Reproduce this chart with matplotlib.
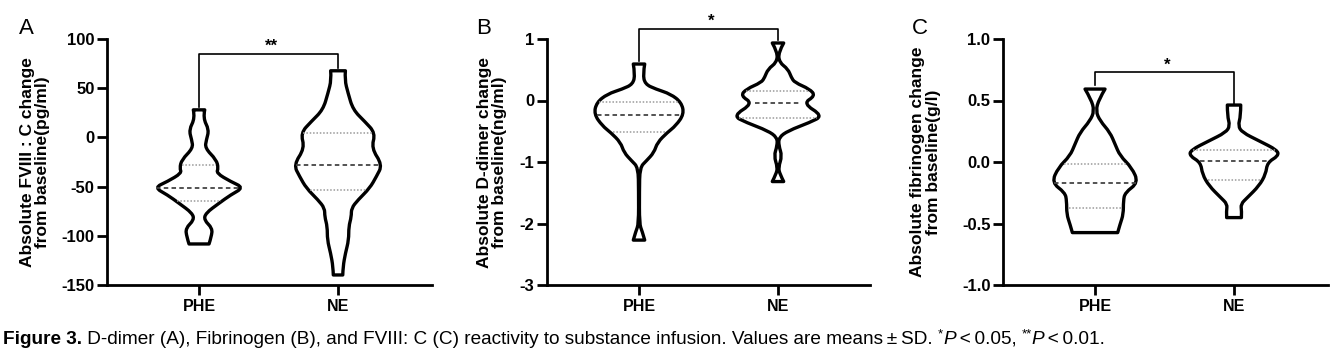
import numpy as np
import matplotlib
matplotlib.use("Agg")
import matplotlib.pyplot as plt
from matplotlib.path import Path
from matplotlib.patches import PathPatch

plt.rcParams["font.family"] = ["Liberation Sans", "DejaVu Sans"]

groups = ["PHE", "NE"]

# violin outlines: y value and half width (x units)
a_phe_y = [28.0, 19.6, 7.7, -2.4, -10.9, -22.8, -31.3, -36.3, -44.9, -51.0, -58.4,
           -66.9, -77.0, -83.9, -92.3, -100.8, -108.3]
a_phe_w = [0.041, 0.029, 0.072, 0.053, 0.043, 0.125, 0.139, 0.125, 0.228, 0.321, 0.228,
           0.144, 0.048, 0.036, 0.096, 0.089, 0.072]
a_ne_y = [67.7, 58.6, 45.1, 28.1, 16.2, 4.4, -10.9, -27.9, -39.8, -51.6, -63.5, -72.0,
          -80.5, -90.7, -104.2, -117.8, -131.4, -139.8]
a_ne_w = [0.053, 0.048, 0.072, 0.108, 0.192, 0.269, 0.240, 0.319, 0.276, 0.228, 0.144,
          0.096, 0.096, 0.077, 0.077, 0.053, 0.036, 0.034]

b_phe_y = [0.593, 0.43, 0.267, 0.186, 0.105, -0.032, -0.221, -0.411, -0.52, -0.683,
           -0.846, -0.981, -1.09, -1.47, -2.01, -2.12, -2.27]
b_phe_w = [0.041, 0.029, 0.043, 0.12, 0.228, 0.305, 0.324, 0.264, 0.204, 0.132,
           0.108, 0.053, 0.006, 0.003, 0.003, 0.022, 0.041]
b_ne_y = [0.935, 0.782, 0.619, 0.511, 0.375, 0.293, 0.186, 0.077, -0.048, -0.249,
          -0.358, -0.493, -0.602, -0.737, -0.9, -1.09, -1.198, -1.318]
b_ne_w = [0.041, 0.003, 0.010, 0.072, 0.096, 0.120, 0.228, 0.269, 0.18, 0.324,
          0.228, 0.072, 0.006, 0.006, 0.029, 0.003, 0.014, 0.041]

c_phe_y = [0.593, 0.512, 0.416, 0.335, 0.24, 0.145, 0.05, -0.045, -0.167, -0.249,
           -0.316, -0.424, -0.506, -0.574]
c_phe_w = [0.072, 0.029, 0.005, 0.036, 0.108, 0.144, 0.18, 0.264, 0.312, 0.216,
           0.204, 0.204, 0.18, 0.163]
c_ne_y = [0.463, 0.376, 0.294, 0.24, 0.172, 0.096, 0.05, -0.004, -0.099, -0.194,
          -0.289, -0.343, -0.398, -0.452]
c_ne_w = [0.048, 0.048, 0.029, 0.06, 0.18, 0.312, 0.319, 0.24, 0.228, 0.18,
          0.096, 0.048, 0.055, 0.053]

# quartiles (Q3, median, Q1)
a_quart = [[-28.2, -51.0, -64.2], [4.4, -27.9, -53.3]]
b_quart = [[-0.032, -0.237, -0.52], [0.147, -0.048, -0.286]]
c_quart = [[-0.013, -0.167, -0.376], [0.096, 0.009, -0.148]]

# significance brackets: bar height, left leg end, right leg end, label
a_sig = [85.0, 31.4, 70.5, "**"]
b_sig = [1.163, 0.647, 0.984, "*"]
c_sig = [0.728, 0.628, 0.471, "*"]

a_ticks = [-150, -100, -50, 0, 50, 100]
b_ticks = [-3, -2, -1, 0, 1]
c_ticks = [-1.0, -0.5, 0.0, 0.5, 1.0]

a_label = "Absolute FVIII : C change\nfrom baseline(pg/ml)"
b_label = "Absolute D-dimer change\nfrom baseline(ng/ml)"
c_label = "Absolute fibrinogen change\nfrom baseline(g/l)"

# caption pieces: text, weight, style, superscript
caption = [
    ("Figure 3.", "bold", "normal", False),
    (" D-dimer (A), Fibrinogen (B), and FVIII: C (C) reactivity to substance infusion. "
     "Values are means\u2009\u00b1\u2009SD. ", "normal", "normal", False),
    ("*", "normal", "normal", True),
    ("P", "normal", "italic", False),
    ("\u2009<\u20090.05, ", "normal", "normal", False),
    ("**", "normal", "normal", True),
    ("P", "normal", "italic", False),
    ("\u2009<\u20090.01.", "normal", "normal", False),
]


def smooth_side(pts):
    # quadratic b-spline through the read points (ends kept)
    verts = [pts[0]]
    codes = [Path.LINETO]
    for i in range(1, len(pts) - 1):
        mid = ((pts[i][0] + pts[i + 1][0]) / 2, (pts[i][1] + pts[i + 1][1]) / 2)
        if i == len(pts) - 2:
            mid = pts[i + 1]
        verts += [pts[i], mid]
        codes += [Path.CURVE3, Path.CURVE3]
    return verts, codes


def draw_violin(ax, x, ys, ws, quart):
    right = [(x + w, y) for y, w in zip(ys, ws)]
    left = [(x - w, y) for y, w in zip(ys[::-1], ws[::-1])]
    rv, rc = smooth_side(right)
    lv, lc = smooth_side(left)
    verts = rv + lv + [rv[0]]
    codes = [Path.MOVETO] + rc[1:] + [Path.LINETO] + lc[1:] + [Path.CLOSEPOLY]
    patch = PathPatch(Path(verts, codes), facecolor="white", edgecolor="black",
                      lw=2.4, joinstyle="round", zorder=3)
    ax.add_patch(patch)
    ys_a = np.array(ys)[::-1]
    ws_a = np.array(ws)[::-1]
    for k, q in enumerate(quart):
        hw = np.interp(q, ys_a, ws_a) - 0.014
        if k == 1:
            ax.plot([x - hw, x + hw], [q, q], ls=(0, (2.5, 1.8)), color="#444444",
                    lw=1.3, zorder=4)
        else:
            ax.plot([x - hw, x + hw], [q, q], ls=(0, (1, 1.2)), color="#9a9a9a",
                    lw=1.1, zorder=4)


def draw_panel(ax, violins, quarts, sig, ticks, label, label_x, fmt, letter, letter_x):
    for i, (ys, ws) in enumerate(violins):
        draw_violin(ax, i, ys, ws, quarts[i])
    ax.set_ylim(ticks[0], ticks[-1])
    ax.set_yticks(ticks)
    ax.set_yticklabels([fmt.format(t) for t in ticks])
    ax.set_xticks([0, 1])
    ax.set_xticklabels(groups)
    for s in ["top", "right"]:
        ax.spines[s].set_visible(False)
    for s in ["left", "bottom"]:
        ax.spines[s].set_linewidth(2.0)
    ax.tick_params(width=2.0, length=7, pad=2)
    ax.tick_params(axis="y", labelsize=12)
    ax.tick_params(axis="x", labelsize=11.5, pad=3)
    for t in ax.get_xticklabels() + ax.get_yticklabels():
        t.set_fontweight("bold")
    ax.plot([0, 0, 1, 1], [sig[1], sig[0], sig[0], sig[2]], color="black", lw=1.2,
            clip_on=False, zorder=5)
    ax.text(0.52, sig[0], sig[3], ha="center", va="bottom", fontsize=12,
            fontweight="bold")
    ax.text(label_x, 0.5, label, transform=ax.transAxes, rotation=90, ha="center",
            va="center", fontsize=12.5, fontweight="bold", linespacing=1.05)
    fig.text(letter_x, 0.902, letter, fontsize=16, ha="left", va="baseline")


fig = plt.figure(figsize=(13.42, 3.48), dpi=100)
W, H = 1342.0, 348.0
ax_a = fig.add_axes([107 / W, 63 / H, 325 / W, 246 / H])
ax_b = fig.add_axes([547 / W, 63 / H, 323 / W, 246 / H])
ax_c = fig.add_axes([1003 / W, 63 / H, 325 / W, 246 / H])
ax_a.set_xlim(-0.662, 1.676)
ax_b.set_xlim(-0.662, 1.662)
ax_c.set_xlim(-0.662, 1.676)

draw_panel(ax_a, [(a_phe_y, a_phe_w), (a_ne_y, a_ne_w)], a_quart, a_sig, a_ticks,
           a_label, -0.222, "{:.0f}", "A", 19 / W)
draw_panel(ax_b, [(b_phe_y, b_phe_w), (b_ne_y, b_ne_w)], b_quart, b_sig, b_ticks,
           b_label, -0.17, "{:.0f}", "B", 476 / W)
draw_panel(ax_c, [(c_phe_y, c_phe_w), (c_ne_y, c_ne_w)], c_quart, c_sig, c_ticks,
           c_label, -0.238, "{:.1f}", "C", 912 / W)


def place_caption(size):
    r = fig.canvas.get_renderer()
    x = 3.0
    items = []
    for txt, weight, style, sup in caption:
        fs = size * 0.7 if sup else size
        y = 4 + (size * 0.45 if sup else 0)
        t = fig.text(x / W, y / H, txt, fontsize=fs, fontweight=weight, style=style,
                     va="baseline", ha="left")
        x = t.get_window_extent(r).x1
        items.append(t)
    return items, x


fig.canvas.draw()
items, end = place_caption(11)
scale = (1108 - 3) / (end - 3)
for t in items:
    t.remove()
place_caption(11 * scale)

fig.savefig("out.png", dpi=100)
